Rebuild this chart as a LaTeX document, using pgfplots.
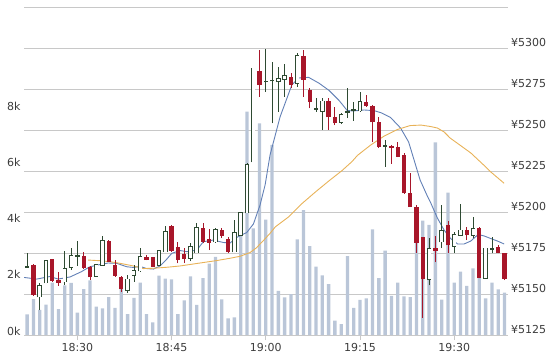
\documentclass[border=0pt]{standalone}
\usepackage{fontspec}
\setmainfont{DejaVu Sans}
\usepackage{pgfplots}
\pgfplotsset{compat=1.18}
\usepackage{pgfplotstable}

\definecolor{volc}{RGB}{186,198,216}
\definecolor{redc}{RGB}{168,22,42}
\definecolor{darkc}{RGB}{46,74,50}
\definecolor{bluec}{RGB}{98,128,182}
\definecolor{orangec}{RGB}{232,178,88}
\definecolor{gridc}{RGB}{200,200,200}
\definecolor{textc}{RGB}{60,60,60}

% up (hollow) and doji candles: minutes after 18:30, open high low close
\pgfplotstableread{
t o h l c
-8 5166.5 5175 5166 5166.5
-6 5148.4 5156.9 5140.2 5154.9
-5 5156.9 5170.5 5156.5 5170.1
-2 5157.5 5176.4 5155.5 5165.1
-1 5166.6 5177.9 5164.6 5173.2
0 5173.2 5182.5 5167.1 5173.2
3 5161 5168 5160.5 5167.7
4 5167.7 5185.4 5167.5 5182.5
8 5152.4 5161.6 5150.8 5159
9 5161.6 5167.7 5157.5 5164.2
10 5164.2 5177.9 5163.6 5172.7
13 5167.7 5176.6 5167.5 5176.4
14 5175.8 5191.2 5175.5 5188
18 5172 5181.1 5170.1 5178.7
19 5175.3 5193.5 5175 5190.1
22 5181.9 5190.2 5181.1 5189.2
25 5175.8 5195.1 5175.5 5187.4
26 5186 5199.6 5185.8 5199.4
27 5199.6 5230.1 5199.4 5228.7
28 5230.7 5288 5230.5 5287.6
30 5279.5 5299.4 5273.4 5279.5
31 5280.1 5291.6 5254.1 5280.1
32 5279.6 5288.6 5261.2 5281.4
33 5281 5290.2 5270.3 5282.8
35 5278.5 5297.1 5276.4 5295.1
38 5262.9 5269.3 5261.2 5262.9
39 5261.7 5269.3 5250 5267.5
42 5254.9 5260.4 5253.7 5259.1
43 5260.9 5275.4 5257.3 5260.9
44 5262.1 5267.3 5255.6 5262.1
45 5261.8 5273.4 5261.2 5267.3
49 5240.2 5243.9 5227.6 5240.2
56 5159.1 5184.1 5155.2 5177.7
58 5181.9 5204.3 5177.9 5188.4
60 5179.4 5188 5175 5186
61 5186 5204.9 5185.7 5188.8
63 5186 5197.1 5184 5189.8
65 5159.6 5178 5159.5 5177.9
66 5177.3 5184.9 5174.8 5177.3
}\uptab

% down (red) candles
\pgfplotstableread{
t o h l c
-7 5167.7 5168 5149 5149.4
-4 5171.2 5171.5 5157.5 5157.9
-3 5158.5 5163.4 5154.9 5156.7
1 5173.2 5175.8 5165.5 5165.7
2 5166.6 5167 5158.5 5160.2
5 5182.5 5183 5169.5 5169.7
6 5167.7 5170.7 5160.5 5161
7 5160.5 5161 5151.4 5152.9
11 5172.6 5173.8 5170.5 5170.7
12 5172.4 5172.6 5166.4 5166.6
15 5191.5 5191.8 5175.8 5176.4
16 5178.8 5181.7 5168.7 5170.9
17 5174.4 5178 5168.9 5171.6
20 5190.1 5193.5 5180.9 5181.9
21 5183.4 5189.5 5176.8 5181.1
23 5189 5190.2 5184.1 5185.4
24 5183.4 5184.9 5175.2 5175.8
29 5285.9 5298.5 5270.3 5277.4
34 5282.3 5284.9 5275.4 5277.4
36 5295.1 5298.5 5270.3 5280.5
37 5274.4 5275.4 5263.2 5267.3
40 5267.5 5269.3 5250 5257.7
41 5257.9 5264.2 5253 5254.1
46 5267.3 5271.3 5264.3 5264.6
47 5264.6 5265.2 5242.4 5254.7
48 5254.9 5257.9 5239 5239.8
50 5240.2 5240.9 5229.3 5239
51 5239.8 5242.9 5233.4 5233.7
52 5234.8 5236.2 5211 5211.4
53 5211.4 5223.6 5202.9 5203
54 5203 5204.3 5175 5181.1
55 5184.5 5184.9 5135.4 5159.1
57 5178 5185.4 5169.5 5176.2
59 5192.1 5194.5 5175 5179.6
62 5188.8 5191 5182.9 5186
64 5190.1 5190.9 5159.5 5159.6
67 5178.8 5179.9 5174.8 5175
68 5174.8 5175 5158.5 5159.1
}\downtab

% volume
\pgfplotstableread{
t v
-8 737
-7 1281
-6 890
-5 1078
-4 1868
-3 925
-2 1769
-1 1851
0 794
1 1637
2 1940
3 1007
4 950
5 1352
6 961
7 1754
8 740
9 1317
10 1861
11 740
12 452
13 2110
14 2004
15 1982
16 740
17 1228
18 2089
19 1068
20 2028
21 2537
22 2776
23 1270
24 594
25 630
26 4342
27 7947
28 3797
29 7534
30 4110
31 6762
32 1566
33 1342
34 1459
35 3399
36 4448
37 3167
38 2431
39 2125
40 1808
41 509
42 391
43 2811
44 961
45 1246
46 1299
47 3762
48 2028
49 3000
50 1388
51 1861
52 1377
53 1352
54 3274
55 4068
56 3915
57 6851
58 1256
59 5064
60 1861
61 2253
62 1744
63 2374
64 3203
65 1306
66 1861
67 1626
68 1505
}\voltab

% short moving average (blue)
\pgfplotstableread{
t p
-8.49 5160.1
-6.46 5159.1
-4.35 5160.7
-3.07 5159.1
-1.16 5160.4
0.64 5163.6
1.97 5166.6
3.30 5167.7
4.89 5168.9
6.27 5168.7
7.87 5166.6
8.92 5166.2
9.98 5166.8
11.05 5165.5
12.10 5165.2
13.17 5167.1
14.24 5171.3
15.03 5174.8
16.35 5176.5
17.42 5175.8
19.01 5176.8
20.06 5181.9
21.66 5182.9
23.25 5181.4
24.32 5181.1
25.38 5184.5
26.97 5187.5
28.03 5192.7
29.09 5204.3
29.89 5216.5
30.68 5234.8
32.28 5258.1
34.14 5277.4
35.25 5281.7
36.82 5282.1
38.49 5278.5
40.08 5274.1
41.67 5268.0
42.95 5261.9
43.90 5261.6
45.65 5262.2
47.25 5261.8
48.36 5260.5
49.87 5257.6
51.46 5251.2
52.74 5242.7
53.61 5231.7
54.57 5219.5
55.64 5210.4
56.27 5205.5
57.32 5196.3
58.39 5189.0
59.43 5183.8
60.54 5180.5
61.58 5180.5
62.64 5182.3
63.81 5186.3
64.76 5185.4
65.83 5183.8
66.88 5182.3
67.95 5180.5
}\matab

% long moving average (orange)
\pgfplotstableread{
t p
1.70 5170.7
3.61 5170.3
5.21 5169.7
6.80 5168.7
8.92 5167.1
10.51 5165.5
12.10 5165.7
14.24 5166.3
16.35 5167.1
19.01 5168.6
22.20 5170.4
24.32 5171.8
25.91 5173.0
27.50 5175.3
28.46 5178.0
29.62 5182.6
30.68 5187.0
31.53 5191.0
33.66 5197.1
35.78 5205.2
37.90 5212.2
40.03 5218.9
42.15 5225.3
43.74 5230.8
44.59 5234.5
46.72 5240.9
48.84 5246.3
50.96 5250.3
52.98 5252.7
54.73 5253.0
56.27 5252.1
57.32 5251.2
58.39 5248.8
59.35 5245.1
60.51 5241.9
62.64 5236.0
64.76 5228.4
65.83 5224.4
67.95 5217.5
}\mbtab

\begin{document}
\begin{tikzpicture}
\useasboundingbox (0,0) rectangle (550bp,354bp);
\pgfplotsset{
  base/.style={
    scale only axis, width=483.6bp, height=328bp,
    at={(24bp,19bp)}, anchor=south west,
    xmin=-8.5, xmax=68.5,
    axis line style={draw=none},
    scaled x ticks=false, scaled y ticks=false,
    tick label style={font=\fontsize{11bp}{13bp}\selectfont, text=textc},
  },
  candle/.style={draw=none, mark=none, forget plot,
    error bars/y dir=plus, error bars/y explicit, error bars/error mark=none},
}
% price grid, time ticks and price labels
\begin{axis}[base,
  ymin=5125, ymax=5325,
  ytick={5125,5150,5175,5200,5225,5250,5275,5300,5325},
  yticklabels={¥5125,¥5150,¥5175,¥5200,¥5225,¥5250,¥5275,¥5300,{}},
  yticklabel pos=right,
  yticklabel style={anchor=west, xshift=-5bp, yshift=5.5bp},
  ymajorgrids, grid style={gridc, line width=0.9bp},
  ytick style={draw=none},
  xtick={0,15,30,45,60},
  xticklabels={18:30,18:45,19:00,19:15,19:30},
  xtick pos=left, tick align=outside,
  major tick length=5bp,
  xtick style={gridc, line width=0.9bp},
]
\addplot [draw=none, forget plot] coordinates {(0,5125)};
\end{axis}
% volume
\begin{axis}[base,
  ymin=0, ymax=11673,
  ytick={0,2000,4000,6000,8000},
  yticklabels={0k,2k,4k,6k,8k},
  yticklabel pos=left,
  yticklabel style={yshift=4bp},
  ytick style={draw=none},
  xtick=\empty,
]
\addplot [ybar, bar width=3.3bp, fill=volc, draw=none] table [x=t, y=v] {\voltab};
\end{axis}
% candles and averages
\begin{axis}[base,
  ymin=5125, ymax=5325,
  ytick=\empty, xtick=\empty,
]
\addplot [bluec, line width=0.9bp, mark=none] table [x=t, y=p] {\matab};
\addplot [orangec, line width=0.9bp, mark=none] table [x=t, y=p] {\mbtab};
% wicks
\addplot [candle, error bars/error bar style={draw=redc, line width=0.8bp}]
  table [x=t, y=l, y error plus expr=\thisrow{h}-\thisrow{l}] {\downtab};
\addplot [candle, error bars/error bar style={draw=darkc, line width=0.8bp}]
  table [x=t, y=l, y error plus expr=\thisrow{h}-\thisrow{l}] {\uptab};
% red bodies
\addplot [candle, error bars/error bar style={draw=redc, line width=4.3bp}]
  table [x=t, y=c, y error plus expr=\thisrow{o}-\thisrow{c}] {\downtab};
% hollow bodies: dark outline slightly taller, white inside
\addplot [candle, error bars/error bar style={draw=darkc, line width=4.5bp}]
  table [x=t, y expr=\thisrow{o}-0.45, y error plus expr=\thisrow{c}-\thisrow{o}+0.9] {\uptab};
\addplot [candle, error bars/error bar style={draw=white, line width=2.9bp}]
  table [x=t, y=o, y error plus expr=\thisrow{c}-\thisrow{o}] {\uptab};
\end{axis}
\end{tikzpicture}
\end{document}
